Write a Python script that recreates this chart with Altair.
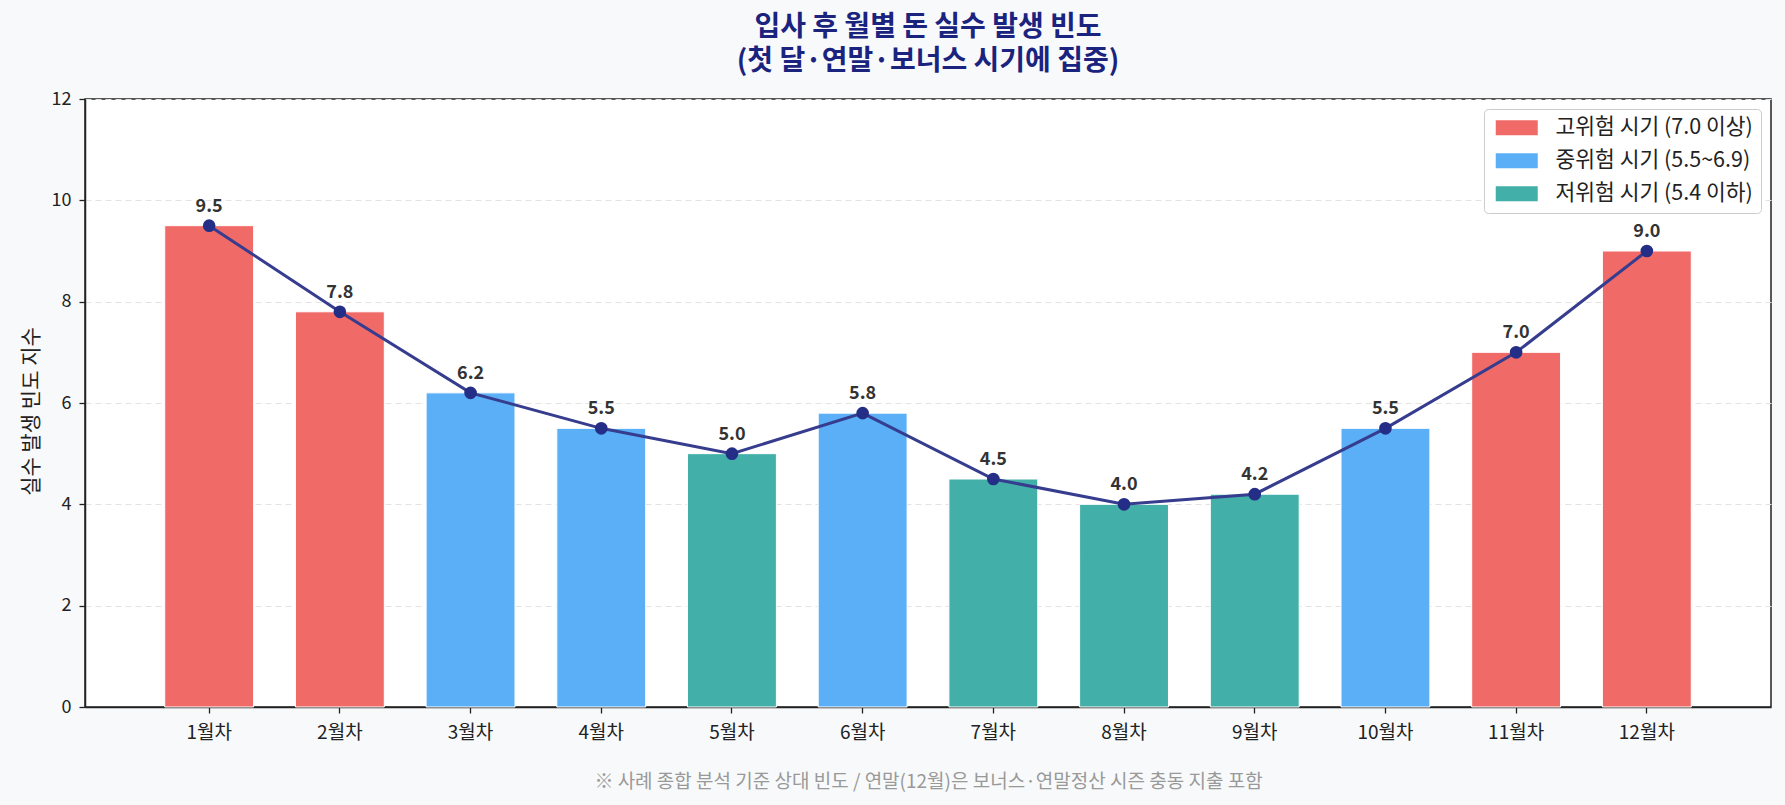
import altair as alt
import pandas as pd

months = ["1월차", "2월차", "3월차", "4월차", "5월차", "6월차",
          "7월차", "8월차", "9월차", "10월차", "11월차", "12월차"]
values = [9.5, 7.8, 6.2, 5.5, 5.0, 5.8, 4.5, 4.0, 4.2, 5.5, 7.0, 9.0]
risk = ["고위험 시기 (7.0 이상)", "고위험 시기 (7.0 이상)",
        "중위험 시기 (5.5~6.9)", "중위험 시기 (5.5~6.9)",
        "저위험 시기 (5.4 이하)", "중위험 시기 (5.5~6.9)",
        "저위험 시기 (5.4 이하)", "저위험 시기 (5.4 이하)",
        "저위험 시기 (5.4 이하)", "중위험 시기 (5.5~6.9)",
        "고위험 시기 (7.0 이상)", "고위험 시기 (7.0 이상)"]
risk_levels = ["고위험 시기 (7.0 이상)", "중위험 시기 (5.5~6.9)", "저위험 시기 (5.4 이하)"]
risk_colors = ["#f06a68", "#5aaff6", "#42b0a8"]
y_ticks = [0, 2, 4, 6, 8, 10, 12]

title_lines = ["입사 후 월별 돈 실수 발생 빈도", "(첫 달·연말·보너스 시기에 집중)"]
y_title = "실수 발생 빈도 지수"
footnote = "※ 사례 종합 분석 기준 상대 빈도 / 연말(12월)은 보너스·연말정산 시즌 충동 지출 포함"

df = pd.DataFrame({"month": months, "value": values, "risk": risk})

FONT = "Noto Sans CJK KR"

x_enc = alt.X(
    "month:N", sort=months,
    scale=alt.Scale(paddingInner=0.32, paddingOuter=0.61),
    axis=alt.Axis(title=footnote, labelAngle=0, labelFontSize=19, labelColor="#222",
                  labelPadding=10, tickSize=6, tickColor="#222", tickWidth=1.3,
                  domain=True, domainColor="#222", domainWidth=1.5,
                  titleFontSize=19, titleFontWeight="normal", titleColor="#999",
                  titlePadding=30, grid=False),
)
y_scale = alt.Scale(domain=[0, 12], nice=False, zero=True)

bars = alt.Chart(df).mark_bar(stroke="white", strokeWidth=1).encode(
    x=x_enc,
    y=alt.Y("value:Q", scale=y_scale,
            axis=alt.Axis(values=y_ticks, title=y_title, titleFontSize=21,
                          titleFontWeight="normal", titleColor="#222",
                          titlePadding=10, titleY=312, labelFontSize=18, labelColor="#222",
                          labelPadding=8, tickSize=6, tickColor="#222", tickWidth=1.3,
                          domainColor="#222", domainWidth=1.5,
                          grid=True, gridDash=[6, 4], gridColor="#e3e3e3", gridWidth=1)),
    color=alt.Color("risk:N",
                    scale=alt.Scale(domain=risk_levels, range=risk_colors),
                    legend=alt.Legend(title=None, orient="top-right", offset=10,
                                      symbolType="M-2.8,-1H2.8V1H-2.8Z",
                                      symbolSize=225, symbolStrokeWidth=0,
                                      symbolOffset=14,
                                      labelFontSize=21.5, labelColor="#222",
                                      labelOffset=28, labelLimit=400, rowPadding=10,
                                      padding=8, fillColor="white",
                                      strokeColor="#cccccc", cornerRadius=4)),
)

line = alt.Chart(df).mark_line(color="#363c8e", strokeWidth=3).encode(
    x=alt.X("month:N", sort=months), y=alt.Y("value:Q", scale=y_scale))
points = alt.Chart(df).mark_point(filled=True, color="#252e86", size=160, opacity=1).encode(
    x=alt.X("month:N", sort=months), y=alt.Y("value:Q", scale=y_scale))
labels = alt.Chart(df).mark_text(dy=-10, baseline="bottom", fontSize=18,
                                 fontWeight="bold", color="#333333").encode(
    x=alt.X("month:N", sort=months), y=alt.Y("value:Q", scale=y_scale),
    text=alt.Text("value:Q", format=".1f"))

chart = alt.layer(bars, line, points, labels).properties(
    width=1686, height=608,
    autosize=alt.AutoSizeParams(type="none"),
    padding={"left": 85, "top": 99, "right": 14, "bottom": 98},
    background="#f8f9fa",
    title=alt.TitleParams(text=title_lines, fontSize=28, fontWeight="bold",
                          color="#1a237e", anchor="middle", offset=14, lineHeight=34),
).configure(font=FONT).configure_view(fill="white", stroke="#222", strokeWidth=1.5)

chart.save("out.html", embed_options={"renderer": "svg", "actions": False})
